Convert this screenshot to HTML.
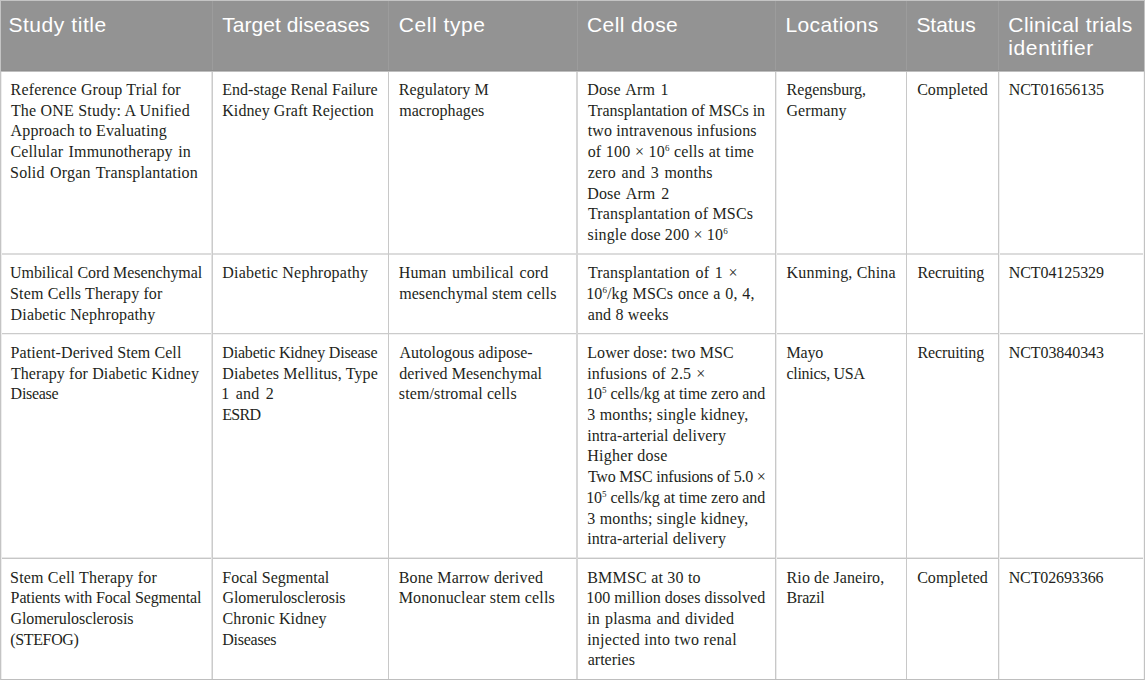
<!DOCTYPE html>
<html><head><meta charset="utf-8"><title>Clinical trials of cell therapy in kidney disease</title>
<style>
html,body{margin:0;padding:0;background:#fff;}
body{width:1145px;height:680px;overflow:hidden;position:relative;}
.hdr{position:absolute;left:0;top:0;width:1145px;height:71px;background:#939393;}
.h,.v{position:absolute;}
.h{height:1px;left:0;width:1145px;}
.v{width:1px;}
.t,.b{position:absolute;white-space:nowrap;}
.t{font-family:"Liberation Sans",Arial,sans-serif;font-size:21px;line-height:24px;height:24px;color:#fff;letter-spacing:0.55px;}
.b{font-family:"Liberation Serif","Times New Roman",serif;font-size:16px;line-height:20px;height:20px;color:#231f20;letter-spacing:0.15px;}
.txt{position:absolute;left:0;top:0;width:1145px;height:680px;}
sup{font-size:9px;line-height:0;vertical-align:baseline;position:relative;top:-6.3px;letter-spacing:0;}
</style></head><body>

<div class="hdr"></div>
<div class="h" style="top:0px;left:0px;width:1145px;height:1px;background:#c4c4c4"></div>
<div class="h" style="top:70px;left:0px;width:1145px;height:1px;background:#8e8e8e"></div>
<div class="h" style="top:71px;left:0px;width:1145px;height:1px;background:#bebebe"></div>
<div class="h" style="top:253px;left:0px;width:1145px;height:2px;background:#dcdcdc"></div>
<div class="h" style="top:333px;left:0px;width:1145px;height:1px;background:#cbcbcb"></div>
<div class="h" style="top:334px;left:0px;width:1145px;height:1px;background:#f2f2f2"></div>
<div class="h" style="top:557px;left:0px;width:1145px;height:1px;background:#e8e8e8"></div>
<div class="h" style="top:558px;left:0px;width:1145px;height:1px;background:#c6c6c6"></div>
<div class="h" style="top:679px;left:0px;width:1145px;height:1px;background:#bebebe"></div>
<div class="v" style="left:0px;top:0px;height:680px;width:1px;background:#c4c4c4"></div>
<div class="v" style="left:1px;top:72px;height:607px;width:1px;background:#ededed"></div>
<div class="v" style="left:1143px;top:72px;height:607px;width:1px;background:#f5f5f5"></div>
<div class="v" style="left:1144px;top:0px;height:680px;width:1px;background:#c2c2c2"></div>
<div class="v" style="left:212px;top:1px;height:69px;width:1px;background:#9c9c9c"></div>
<div class="v" style="left:388px;top:1px;height:69px;width:1px;background:#9c9c9c"></div>
<div class="v" style="left:577px;top:1px;height:69px;width:1px;background:#9c9c9c"></div>
<div class="v" style="left:775px;top:1px;height:69px;width:1px;background:#9c9c9c"></div>
<div class="v" style="left:906px;top:1px;height:69px;width:1px;background:#9c9c9c"></div>
<div class="v" style="left:998px;top:1px;height:69px;width:1px;background:#9c9c9c"></div>
<div class="v" style="left:211px;top:72px;height:607px;width:1px;background:#e4e4e4"></div>
<div class="v" style="left:212px;top:72px;height:607px;width:1px;background:#cbcbcb"></div>
<div class="v" style="left:388px;top:72px;height:607px;width:1px;background:#c8c8c8"></div>
<div class="v" style="left:576px;top:72px;height:607px;width:2px;background:#d6d6d6"></div>
<div class="v" style="left:775px;top:72px;height:607px;width:1px;background:#c8c8c8"></div>
<div class="v" style="left:776px;top:72px;height:607px;width:1px;background:#ececec"></div>
<div class="v" style="left:906px;top:72px;height:607px;width:1px;background:#c8c8c8"></div>
<div class="v" style="left:998px;top:72px;height:607px;width:1px;background:#c8c8c8"></div>
<div class="v" style="left:999px;top:72px;height:607px;width:1px;background:#f0f0f0"></div>
<div class="txt">
<div class="t" id="h0_0" style="left:8.42px;top:13.00px;letter-spacing:0.559px;">Study title</div>
<div class="t" id="h1_0" style="left:222.27px;top:13.00px;letter-spacing:0.036px;">Target diseases</div>
<div class="t" id="h2_0" style="left:398.82px;top:13.00px;letter-spacing:0.550px;">Cell type</div>
<div class="t" id="h3_0" style="left:587.03px;top:13.00px;letter-spacing:0.394px;">Cell dose</div>
<div class="t" id="h4_0" style="left:785.53px;top:13.00px;letter-spacing:0.357px;">Locations</div>
<div class="t" id="h5_0" style="left:916.42px;top:13.00px;letter-spacing:-0.050px;">Status</div>
<div class="t" id="h6_0" style="left:1008.30px;top:13.00px;letter-spacing:0.433px;">Clinical trials</div>
<div class="t" id="h6_1" style="left:1008.23px;top:35.50px;letter-spacing:0.636px;">identifier</div>
<div class="b" id="b0_0_0" style="left:10.62px;top:80.00px;letter-spacing:0.144px;">Reference Group Trial for</div>
<div class="b" id="b0_0_1" style="left:10.88px;top:100.70px;letter-spacing:0.199px;">The ONE Study: A Unified</div>
<div class="b" id="b0_0_2" style="left:10.50px;top:121.40px;letter-spacing:0.161px;">Approach to Evaluating</div>
<div class="b" id="b0_0_3" style="left:10.45px;top:142.10px;word-spacing:1.291px;letter-spacing:0.150px;">Cellular Immunotherapy in</div>
<div class="b" id="b0_0_4" style="left:10.08px;top:162.80px;word-spacing:1.324px;letter-spacing:0.150px;">Solid Organ Transplantation</div>
<div class="b" id="b0_1_0" style="left:222.25px;top:80.00px;letter-spacing:0.033px;">End-stage Renal Failure</div>
<div class="b" id="b0_1_1" style="left:222.25px;top:100.70px;letter-spacing:0.063px;">Kidney Graft Rejection</div>
<div class="b" id="b0_2_0" style="left:398.68px;top:80.00px;letter-spacing:0.066px;">Regulatory M</div>
<div class="b" id="b0_2_1" style="left:399.15px;top:100.70px;letter-spacing:0.074px;">macrophages</div>
<div class="b" id="b0_3_0" style="left:587.25px;top:80.00px;word-spacing:1.281px;letter-spacing:0.150px;">Dose Arm 1</div>
<div class="b" id="b0_3_1" style="left:587.92px;top:100.70px;letter-spacing:-0.020px;">Transplantation of MSCs in</div>
<div class="b" id="b0_3_2" style="left:587.66px;top:121.40px;letter-spacing:0.150px;">two intravenous infusions</div>
<div class="b" id="b0_3_3" style="left:587.66px;top:142.10px;word-spacing:0.422px;letter-spacing:0.150px;">of 100 × 10<sup>6</sup> cells at time</div>
<div class="b" id="b0_3_4" style="left:587.69px;top:162.80px;word-spacing:1.510px;letter-spacing:0.150px;">zero and 3 months</div>
<div class="b" id="b0_3_5" style="left:587.25px;top:183.50px;word-spacing:1.681px;letter-spacing:0.150px;">Dose Arm 2</div>
<div class="b" id="b0_3_6" style="left:587.92px;top:204.20px;letter-spacing:0.177px;">Transplantation of MSCs</div>
<div class="b" id="b0_3_7" style="left:587.51px;top:224.90px;letter-spacing:0.152px;">single dose 200 × 10<sup>6</sup></div>
<div class="b" id="b0_4_0" style="left:786.62px;top:80.00px;letter-spacing:-0.075px;">Regensburg,</div>
<div class="b" id="b0_4_1" style="left:786.45px;top:100.70px;letter-spacing:0.104px;">Germany</div>
<div class="b" id="b0_5_0" style="left:917.13px;top:80.00px;letter-spacing:0.061px;">Completed</div>
<div class="b" id="b0_6_0" style="left:1008.68px;top:80.00px;letter-spacing:-0.061px;">NCT01656135</div>
<div class="b" id="b1_0_0" style="left:10.06px;top:263.20px;letter-spacing:-0.064px;">Umbilical Cord Mesenchymal</div>
<div class="b" id="b1_0_1" style="left:10.08px;top:283.90px;letter-spacing:0.133px;">Stem Cells Therapy for</div>
<div class="b" id="b1_0_2" style="left:10.62px;top:304.60px;letter-spacing:0.150px;">Diabetic Nephropathy</div>
<div class="b" id="b1_1_0" style="left:222.25px;top:263.20px;letter-spacing:0.212px;">Diabetic Nephropathy</div>
<div class="b" id="b1_2_0" style="left:398.68px;top:263.20px;word-spacing:1.425px;letter-spacing:0.150px;">Human umbilical cord</div>
<div class="b" id="b1_2_1" style="left:399.15px;top:283.90px;letter-spacing:0.082px;">mesenchymal stem cells</div>
<div class="b" id="b1_3_0" style="left:587.92px;top:263.20px;word-spacing:1.436px;letter-spacing:0.150px;">Transplantation of 1 ×</div>
<div class="b" id="b1_3_1" style="left:586.16px;top:283.90px;word-spacing:0.544px;letter-spacing:0.150px;">10<sup>6</sup>/kg MSCs once a 0, 4,</div>
<div class="b" id="b1_3_2" style="left:587.67px;top:304.60px;letter-spacing:0.179px;">and 8 weeks</div>
<div class="b" id="b1_4_0" style="left:786.62px;top:263.20px;letter-spacing:0.180px;">Kunming, China</div>
<div class="b" id="b1_5_0" style="left:917.38px;top:263.20px;letter-spacing:-0.075px;">Recruiting</div>
<div class="b" id="b1_6_0" style="left:1008.68px;top:263.20px;letter-spacing:-0.064px;">NCT04125329</div>
<div class="b" id="b2_0_0" style="left:10.62px;top:342.90px;letter-spacing:0.078px;">Patient-Derived Stem Cell</div>
<div class="b" id="b2_0_1" style="left:10.88px;top:363.60px;letter-spacing:0.110px;">Therapy for Diabetic Kidney</div>
<div class="b" id="b2_0_2" style="left:10.62px;top:384.30px;letter-spacing:-0.288px;">Disease</div>
<div class="b" id="b2_1_0" style="left:222.25px;top:342.90px;letter-spacing:-0.172px;">Diabetic Kidney Disease</div>
<div class="b" id="b2_1_1" style="left:222.25px;top:363.60px;letter-spacing:0.124px;">Diabetes Mellitus, Type</div>
<div class="b" id="b2_1_2" style="left:221.16px;top:384.30px;word-spacing:2.335px;letter-spacing:0.150px;">1 and 2</div>
<div class="b" id="b2_1_3" style="left:222.25px;top:405.00px;letter-spacing:-0.711px;">ESRD</div>
<div class="b" id="b2_2_0" style="left:399.54px;top:342.90px;letter-spacing:0.012px;">Autologous adipose-</div>
<div class="b" id="b2_2_1" style="left:399.23px;top:363.60px;letter-spacing:0.058px;">derived Mesenchymal</div>
<div class="b" id="b2_2_2" style="left:398.86px;top:384.30px;letter-spacing:0.106px;">stem/stromal cells</div>
<div class="b" id="b2_3_0" style="left:587.25px;top:342.90px;letter-spacing:0.060px;">Lower dose: two MSC</div>
<div class="b" id="b2_3_1" style="left:587.13px;top:363.60px;word-spacing:0.865px;letter-spacing:0.150px;">infusions of 2.5 ×</div>
<div class="b" id="b2_3_2" style="left:586.16px;top:384.30px;letter-spacing:-0.066px;">10<sup>5</sup> cells/kg at time zero and</div>
<div class="b" id="b2_3_3" style="left:587.22px;top:405.00px;letter-spacing:0.204px;">3 months; single kidney,</div>
<div class="b" id="b2_3_4" style="left:587.13px;top:425.70px;letter-spacing:0.109px;">intra-arterial delivery</div>
<div class="b" id="b2_3_5" style="left:587.25px;top:446.40px;letter-spacing:0.226px;">Higher dose</div>
<div class="b" id="b2_3_6" style="left:587.92px;top:467.10px;letter-spacing:-0.204px;">Two MSC infusions of 5.0 ×</div>
<div class="b" id="b2_3_7" style="left:586.16px;top:487.80px;letter-spacing:-0.066px;">10<sup>5</sup> cells/kg at time zero and</div>
<div class="b" id="b2_3_8" style="left:587.22px;top:508.50px;letter-spacing:0.204px;">3 months; single kidney,</div>
<div class="b" id="b2_3_9" style="left:587.13px;top:529.20px;letter-spacing:0.109px;">intra-arterial delivery</div>
<div class="b" id="b2_4_0" style="left:786.62px;top:342.90px;letter-spacing:-0.246px;">Mayo</div>
<div class="b" id="b2_4_1" style="left:786.46px;top:363.60px;letter-spacing:-0.294px;">clinics, USA</div>
<div class="b" id="b2_5_0" style="left:917.38px;top:342.90px;letter-spacing:-0.075px;">Recruiting</div>
<div class="b" id="b2_6_0" style="left:1008.68px;top:342.90px;letter-spacing:-0.062px;">NCT03840343</div>
<div class="b" id="b3_0_0" style="left:10.08px;top:567.60px;letter-spacing:0.170px;">Stem Cell Therapy for</div>
<div class="b" id="b3_0_1" style="left:10.62px;top:588.30px;letter-spacing:-0.119px;">Patients with Focal Segmental</div>
<div class="b" id="b3_0_2" style="left:10.45px;top:609.00px;letter-spacing:-0.080px;">Glomerulosclerosis</div>
<div class="b" id="b3_0_3" style="left:10.36px;top:629.70px;letter-spacing:-0.377px;">(STEFOG)</div>
<div class="b" id="b3_1_0" style="left:222.25px;top:567.60px;letter-spacing:-0.009px;">Focal Segmental</div>
<div class="b" id="b3_1_1" style="left:222.56px;top:588.30px;letter-spacing:-0.088px;">Glomerulosclerosis</div>
<div class="b" id="b3_1_2" style="left:222.56px;top:609.00px;letter-spacing:0.107px;">Chronic Kidney</div>
<div class="b" id="b3_1_3" style="left:222.25px;top:629.70px;letter-spacing:-0.240px;">Diseases</div>
<div class="b" id="b3_2_0" style="left:398.68px;top:567.60px;letter-spacing:0.163px;">Bone Marrow derived</div>
<div class="b" id="b3_2_1" style="left:398.68px;top:588.30px;letter-spacing:0.153px;">Mononuclear stem cells</div>
<div class="b" id="b3_3_0" style="left:587.25px;top:567.60px;letter-spacing:0.201px;">BMMSC at 30 to</div>
<div class="b" id="b3_3_1" style="left:586.16px;top:588.30px;letter-spacing:0.032px;">100 million doses dissolved</div>
<div class="b" id="b3_3_2" style="left:587.13px;top:609.00px;word-spacing:1.006px;letter-spacing:0.150px;">in plasma and divided</div>
<div class="b" id="b3_3_3" style="left:587.13px;top:629.70px;letter-spacing:0.272px;">injected into two renal</div>
<div class="b" id="b3_3_4" style="left:587.67px;top:650.40px;letter-spacing:0.029px;">arteries</div>
<div class="b" id="b3_4_0" style="left:786.62px;top:567.60px;letter-spacing:0.083px;">Rio de Janeiro,</div>
<div class="b" id="b3_4_1" style="left:786.62px;top:588.30px;letter-spacing:-0.226px;">Brazil</div>
<div class="b" id="b3_5_0" style="left:917.13px;top:567.60px;letter-spacing:0.061px;">Completed</div>
<div class="b" id="b3_6_0" style="left:1008.68px;top:567.60px;letter-spacing:-0.115px;">NCT02693366</div>
</div>
</body></html>
